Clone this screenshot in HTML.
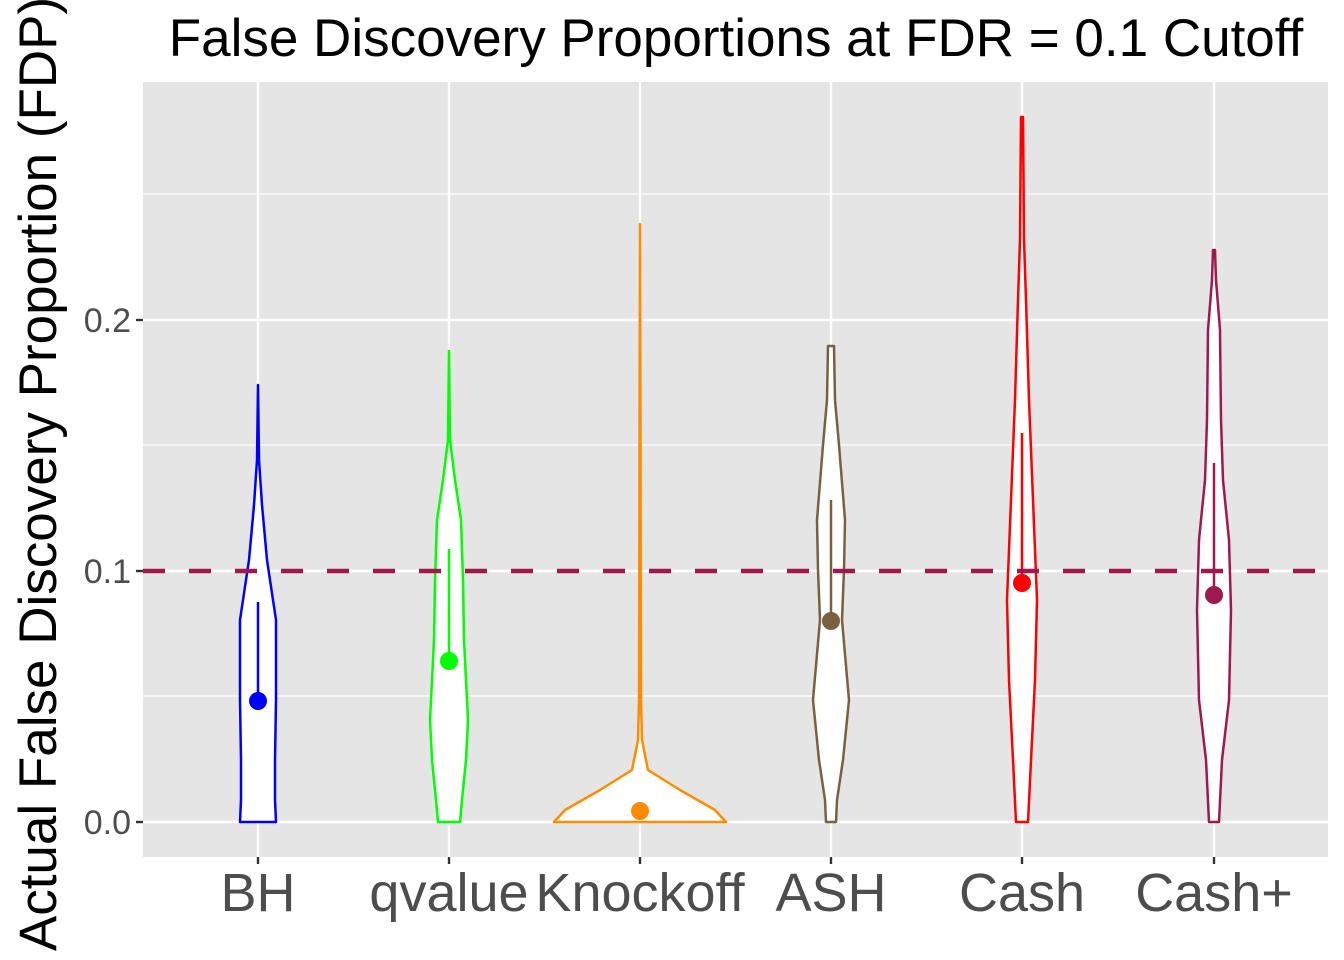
<!DOCTYPE html>
<html><head><meta charset="utf-8"><style>body{margin:0;background:#fff}svg{display:block}</style></head>
<body>
<svg width="1344" height="960" xmlns="http://www.w3.org/2000/svg" font-family="Liberation Sans, sans-serif">
<rect width="1344" height="960" fill="#fff"/>
<rect x="143" y="82" width="1185" height="775" fill="#e5e5e5"/>
<g stroke="#fff" stroke-width="1.2">
<line x1="143" x2="1328" y1="696" y2="696"/><line x1="143" x2="1328" y1="445" y2="445"/><line x1="143" x2="1328" y1="194" y2="194"/>
</g>
<g stroke="#fff" stroke-width="2.4">
<line x1="143" x2="1328" y1="822" y2="822"/><line x1="143" x2="1328" y1="571" y2="571"/><line x1="143" x2="1328" y1="320" y2="320"/>
<line x1="258" x2="258" y1="82" y2="857"/><line x1="449" x2="449" y1="82" y2="857"/><line x1="640" x2="640" y1="82" y2="857"/>
<line x1="831" x2="831" y1="82" y2="857"/><line x1="1022" x2="1022" y1="82" y2="857"/><line x1="1214" x2="1214" y1="82" y2="857"/>
</g>
<g fill="#fff" stroke-width="2.5" stroke-linejoin="round">
<polygon stroke="#0000ff" points="258,385 259,460 262,505 267,560 273,600 276,620 276,700 275,760 275,800 276,822 240,822 241,800 241,760 240,700 240,620 243,600 249,560 254,505 257,460"/>
<polygon stroke="#00ff00" points="449,351 450,440 455,480 461,520 463,580 464,640 468,720 466,760 462,800 460,822 438,822 436,800 432,760 430,720 434,640 435,580 437,520 443,480 448,440"/>
<polygon stroke="#ff8c00" points="640,224 641,700 642,740 648,770 680,790 715,810 726,822 554,822 565,810 600,790 632,770 638,740 639,700"/>
<polygon stroke="#7b6040" points="834,346 835,400 839,445 845,520 844,570 842,620 849,700 843,760 837,800 836,822 826,822 825,800 819,760 813,700 820,620 818,570 817,520 823,445 827,400 828,346"/>
<polygon stroke="#ff0000" points="1023,117 1024,240 1026,300 1029,400 1033,500 1037,600 1035,680 1031,760 1028,822 1016,822 1013,760 1009,680 1007,600 1011,500 1015,400 1018,300 1020,240 1021,117"/>
<polygon stroke="#a0194e" points="1215,250 1216,280 1220,330 1221,420 1223,480 1229,540 1231,610 1229,700 1222,760 1219,822 1209,822 1206,760 1199,700 1197,610 1199,540 1205,480 1207,420 1208,330 1212,280 1213,250"/>
</g>
<g stroke-width="2.5">
<line x1="258" x2="258" y1="602" y2="701" stroke="#0000ff"/><circle cx="258" cy="701" r="9" fill="#0000ff"/>
<line x1="449" x2="449" y1="549" y2="661" stroke="#00ff00"/><circle cx="449" cy="661" r="9" fill="#00ff00"/>
<circle cx="640" cy="811" r="9" fill="#ff8c00"/>
<line x1="831" x2="831" y1="500" y2="621" stroke="#7b6040"/><circle cx="831" cy="621" r="9" fill="#7b6040"/>
<line x1="1022" x2="1022" y1="433" y2="583" stroke="#ff0000"/><circle cx="1022" cy="583" r="9" fill="#ff0000"/>
<line x1="1214" x2="1214" y1="463" y2="595" stroke="#a0194e"/><circle cx="1214" cy="595" r="9" fill="#a0194e"/>
</g>
<line x1="143" x2="1328" y1="571" y2="571" stroke="#a0194e" stroke-width="4.5" stroke-dasharray="22 24"/>
<g stroke="#333" stroke-width="2.4">
<line x1="136" x2="143" y1="822" y2="822"/><line x1="136" x2="143" y1="571" y2="571"/><line x1="136" x2="143" y1="320" y2="320"/>
<line x1="258" x2="258" y1="857" y2="864"/><line x1="449" x2="449" y1="857" y2="864"/><line x1="640" x2="640" y1="857" y2="864"/>
<line x1="831" x2="831" y1="857" y2="864"/><line x1="1022" x2="1022" y1="857" y2="864"/><line x1="1214" x2="1214" y1="857" y2="864"/>
</g>
<g fill="#4d4d4d" font-size="34" text-anchor="end">
<text x="131" y="834">0.0</text><text x="131" y="583">0.1</text><text x="131" y="332">0.2</text>
</g>
<g fill="#4d4d4d" font-size="54" text-anchor="middle">
<text x="258" y="911">BH</text><text x="449" y="911">qvalue</text><text x="640" y="911">Knockoff</text>
<text x="831" y="911">ASH</text><text x="1022" y="911">Cash</text><text x="1214" y="911">Cash+</text>
</g>
<text x="736" y="56" font-size="53" text-anchor="middle" fill="#000">False Discovery Proportions at FDR = 0.1 Cutoff</text>
<text transform="translate(56,474) rotate(-90)" font-size="53" text-anchor="middle" fill="#000">Actual False Discovery Proportion (FDP)</text>
</svg>
</body></html>
